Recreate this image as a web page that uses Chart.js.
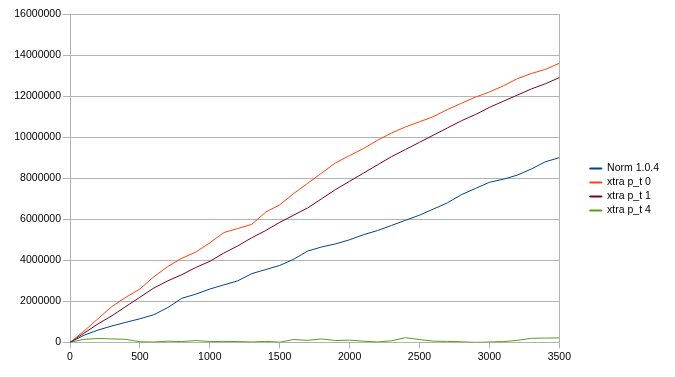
<!DOCTYPE html>
<html>
<head>
<meta charset="utf-8">
<script src="https://cdn.jsdelivr.net/npm/chart.js@4"></script>
<style>
  html, body { margin: 0; padding: 0; background: #fff; }
  #wrap { width: 675px; height: 377px; position: relative; }
</style>
</head>
<body>
<div id="wrap"><canvas id="c"></canvas></div>
<script>
// x 轴取样点（每 100 一个）
const steps = [0, 100, 200, 300, 400, 500, 600, 700, 800, 900,
  1000, 1100, 1200, 1300, 1400, 1500, 1600, 1700, 1800, 1900,
  2000, 2100, 2200, 2300, 2400, 2500, 2600, 2700, 2800, 2900,
  3000, 3100, 3200, 3300, 3400, 3500];

// 各系列数值（单位：百万）
const norm104 = [0, 0.35, 0.6, 0.8, 0.98, 1.15, 1.35, 1.7, 2.15, 2.35,
  2.6, 2.8, 3.0, 3.35, 3.55, 3.75, 4.05, 4.45, 4.65, 4.8,
  5.0, 5.25, 5.45, 5.7, 5.95, 6.2, 6.5, 6.8, 7.2, 7.5,
  7.8, 7.95, 8.15, 8.45, 8.8, 9.0];
const xtraPt0 = [0, 0.55, 1.15, 1.75, 2.2, 2.6, 3.2, 3.7, 4.1, 4.4,
  4.85, 5.35, 5.55, 5.75, 6.35, 6.7, 7.25, 7.75, 8.25, 8.75,
  9.1, 9.45, 9.85, 10.2, 10.5, 10.75, 11.0, 11.35, 11.65, 11.95,
  12.2, 12.5, 12.85, 13.1, 13.3, 13.6];
const xtraPt1 = [0, 0.45, 0.9, 1.3, 1.75, 2.2, 2.65, 3.0, 3.3, 3.65,
  3.95, 4.35, 4.7, 5.1, 5.45, 5.85, 6.2, 6.55, 7.0, 7.45,
  7.85, 8.25, 8.65, 9.05, 9.4, 9.75, 10.1, 10.45, 10.8, 11.1,
  11.45, 11.75, 12.05, 12.35, 12.6, 12.9];
const xtraPt4 = [0, 0.15, 0.19, 0.17, 0.15, 0.03, 0.02, 0.06, 0.04, 0.09,
  0.04, 0.05, 0.04, 0.02, 0.05, 0.01, 0.14, 0.10, 0.17, 0.09,
  0.11, 0.06, 0.02, 0.08, 0.23, 0.14, 0.06, 0.05, 0.03, 0.0,
  0.02, 0.04, 0.10, 0.20, 0.21, 0.22];

const yTicks = [0, 2000000, 4000000, 6000000, 8000000, 10000000, 12000000, 14000000, 16000000];

const SERIES = [
  {name: 'Norm 1.0.4', vals: norm104, color: '#004586'},
  {name: 'xtra p_t 0', vals: xtraPt0, color: '#ff420e'},
  {name: 'xtra p_t 1', vals: xtraPt1, color: '#7e0021'},
  {name: 'xtra p_t 4', vals: xtraPt4, color: '#579d1c'}
];

const GRID = '#b3b3b3';
const FONT = {family: "'Liberation Sans', Arial, sans-serif", size: 10.5};

new Chart(document.getElementById('c'), {
  type: 'line',
  data: {
    datasets: SERIES.map(s => ({
      label: s.name,
      data: steps.map((x, i) => ({x: x, y: s.vals[i] * 1e6})),
      borderColor: s.color,
      backgroundColor: s.color,
      borderWidth: 1,
      pointRadius: 0,
      tension: 0
    }))
  },
  options: {
    responsive: true,
    maintainAspectRatio: false,
    animation: false,
    layout: {padding: {left: 0, top: 14, right: 6, bottom: 12}},
    plugins: {
      legend: {
        position: 'right',
        labels: {
          color: '#000',
          font: FONT,
          boxWidth: 12,
          boxHeight: 1,
          padding: 3.5
        }
      },
      tooltip: {enabled: false}
    },
    scales: {
      x: {
        type: 'linear',
        min: 0,
        max: 3500,
        border: {color: GRID},
        grid: {
          color: c => (c.tick && c.tick.value === 3500) ? GRID : 'rgba(0,0,0,0)',
          tickColor: GRID,
          tickLength: 6
        },
        ticks: {stepSize: 500, color: '#000', font: FONT, maxRotation: 0, padding: 2, callback: v => String(v)}
      },
      y: {
        min: 0,
        max: 16000000,
        border: {color: GRID},
        afterFit: a => { a.width = 70; },
        afterBuildTicks: a => { a.ticks = yTicks.map(v => ({value: v})); },
        grid: {color: GRID, tickColor: GRID, tickLength: 7},
        ticks: {color: '#000', font: FONT, padding: 2, callback: v => String(v)}
      },
      // 右侧留白，把图例推开
      gap: {
        position: 'right',
        afterFit: a => { a.width = 27; },
        border: {display: false},
        grid: {display: false},
        ticks: {display: false}
      }
    }
  }
});
</script>
</body>
</html>
